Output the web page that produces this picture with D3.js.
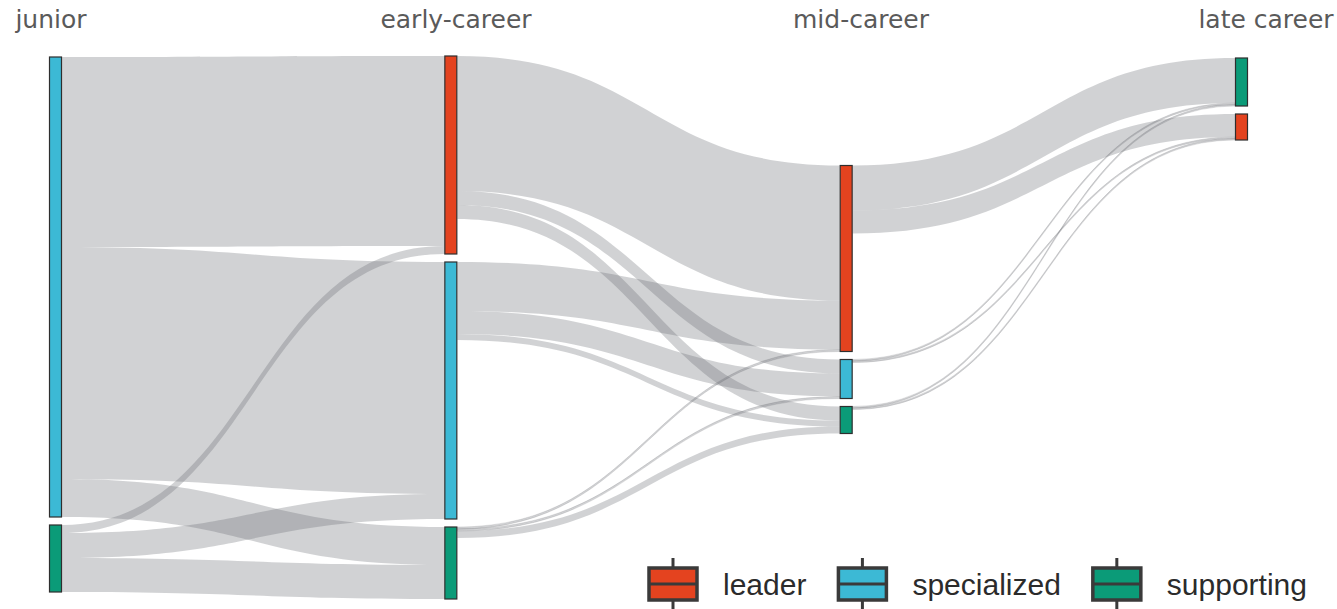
<!DOCTYPE html>
<html>
<head>
<meta charset="utf-8">
<script src="https://cdn.jsdelivr.net/npm/d3@7"></script>
<style>
  html, body { margin: 0; padding: 0; background: #fff; }
  svg { display: block; }
</style>
</head>
<body>
<svg id="chart" width="1337" height="609"></svg>
<script>
// ---- data -------------------------------------------------------------
const stages = ["junior", "early-career", "mid-career", "late career"];
const roles = ["leader", "specialized", "supporting"];
const roleColors = ["#e4431f", "#3cb9d5", "#0b9b78"];

// roles shown in each stage, top to bottom
const stageRoles = [
  ["specialized", "supporting"],
  ["leader", "specialized", "supporting"],
  ["leader", "specialized", "supporting"],
  ["supporting", "leader"]
];

// flows between consecutive stages (people)
const linkFromStage = [0, 0, 0, 0, 0, 0, 1, 1, 1, 1, 1, 1, 1, 1, 1, 2, 2, 2, 2, 2, 2];
const linkFromRole = [
  "specialized", "specialized", "specialized", "supporting", "supporting", "supporting",
  "leader", "leader", "leader", "specialized", "specialized", "specialized", "supporting", "supporting", "supporting",
  "leader", "leader", "specialized", "specialized", "supporting", "supporting"
];
const linkToRole = [
  "leader", "specialized", "supporting", "leader", "specialized", "supporting",
  "leader", "specialized", "supporting", "leader", "specialized", "supporting", "leader", "specialized", "supporting",
  "supporting", "leader", "supporting", "leader", "supporting", "leader"
];
const linkValue = [
  190, 232, 38, 8, 25, 34,
  135, 14, 14, 49, 23, 6, 2, 2, 7,
  45, 23, 1.5, 1.5, 1.5, 1.5
];

// vertical start of each stage column (same units as flows) and gap between boxes
const stageOffset = [1, 0, 109.5, 2];
const nodePad = 8;

// ---- layout -----------------------------------------------------------
const svg = d3.select("#chart");
const x = d3.scalePoint().domain(stages).range([49, 1235]);
const xLabel = d3.scalePoint().domain(stages).range([51, 1266]);
const y = d3.scaleLinear().domain([0, 545]).range([56, 601]);
const color = d3.scaleOrdinal().domain(roles).range(roleColors);
const nodeW = 13;

const nodes = [];
const byKey = new Map();
stageRoles.forEach((rs, si) => {
  rs.forEach((r, ri) => {
    const n = { key: si + "/" + r, stage: si, role: r, order: ri, out: [], in: [] };
    nodes.push(n);
    byKey.set(n.key, n);
  });
});

const links = linkValue.map((v, i) => {
  const s = byKey.get(linkFromStage[i] + "/" + linkFromRole[i]);
  const t = byKey.get((linkFromStage[i] + 1) + "/" + linkToRole[i]);
  const l = { source: s, target: t, value: v };
  s.out.push(l);
  t.in.push(l);
  return l;
});

nodes.forEach(n => {
  n.value = Math.max(d3.sum(n.out, l => l.value), d3.sum(n.in, l => l.value));
});

stageRoles.forEach((rs, si) => {
  let pos = stageOffset[si];
  rs.forEach(r => {
    const n = byKey.get(si + "/" + r);
    n.y0 = pos;
    n.y1 = pos + n.value;
    pos = n.y1 + nodePad;
  });
});

nodes.forEach(n => {
  let o = n.y0;
  n.out.sort((a, b) => a.target.order - b.target.order)
    .forEach(l => { l.sy0 = o; o += l.value; l.sy1 = o; });
  let p = n.y0;
  n.in.sort((a, b) => a.source.order - b.source.order)
    .forEach(l => { l.ty0 = p; p += l.value; l.ty1 = p; });
});

function bandPath(l) {
  const x0 = x(stages[l.source.stage]) + nodeW;
  const x1 = x(stages[l.target.stage]);
  const xm = (x0 + x1) / 2;
  const p = d3.path();
  p.moveTo(x0, y(l.sy0));
  p.bezierCurveTo(xm, y(l.sy0), xm, y(l.ty0), x1, y(l.ty0));
  p.lineTo(x1, y(l.ty1));
  p.bezierCurveTo(xm, y(l.ty1), xm, y(l.sy1), x0, y(l.sy1));
  p.closePath();
  return p.toString();
}

// ---- draw -------------------------------------------------------------
svg.append("g")
  .selectAll("path")
  .data(links)
  .join("path")
  .attr("d", bandPath)
  .attr("fill", "#676a70")
  .attr("fill-opacity", 0.3)
  .attr("stroke", "#676a70")
  .attr("stroke-opacity", d => d.value < 3 ? 0.3 : 0)
  .attr("stroke-width", 0.6);

svg.append("g")
  .selectAll("rect")
  .data(nodes)
  .join("rect")
  .attr("x", d => x(stages[d.stage]) + 0.5)
  .attr("y", d => y(d.y0))
  .attr("width", nodeW - 1)
  .attr("height", d => y(d.y1) - y(d.y0))
  .attr("fill", d => color(d.role))
  .attr("stroke", "#2e2e2e")
  .attr("stroke-width", 1.2);

svg.append("g")
  .selectAll("text")
  .data(stages)
  .join("text")
  .attr("x", d => xLabel(d))
  .attr("y", 28)
  .attr("text-anchor", "middle")
  .attr("font-family", "DejaVu Sans, Verdana, sans-serif")
  .attr("font-size", 25)
  .attr("fill", "#5a5a5a")
  .text(d => d);

// legend (boxplot-like keys), laid out left to right
const legend = svg.append("g");
const keyW = 48, keyH = 32, keyTop = 568, textGap = 26, itemGap = 32;
let lx = 649;
roles.forEach(r => {
  const g = legend.append("g");
  const cx = lx + keyW / 2;
  g.append("line").attr("x1", cx).attr("x2", cx).attr("y1", keyTop - 10).attr("y2", keyTop + keyH + 10)
    .attr("stroke", "#3a3a3a").attr("stroke-width", 3);
  g.append("rect").attr("x", lx).attr("y", keyTop).attr("width", keyW).attr("height", keyH)
    .attr("fill", color(r)).attr("stroke", "#3a3a3a").attr("stroke-width", 3.5);
  g.append("line").attr("x1", lx).attr("x2", lx + keyW).attr("y1", keyTop + keyH / 2).attr("y2", keyTop + keyH / 2)
    .attr("stroke", "#3a3a3a").attr("stroke-width", 3);
  const t = g.append("text")
    .attr("x", lx + keyW + textGap)
    .attr("y", 595)
    .attr("font-family", "Liberation Sans, Arial, sans-serif")
    .attr("font-size", 30)
    .attr("fill", "#2b2b2b")
    .text(r);
  lx += keyW + textGap + t.node().getComputedTextLength() + itemGap;
});
</script>
</body>
</html>
